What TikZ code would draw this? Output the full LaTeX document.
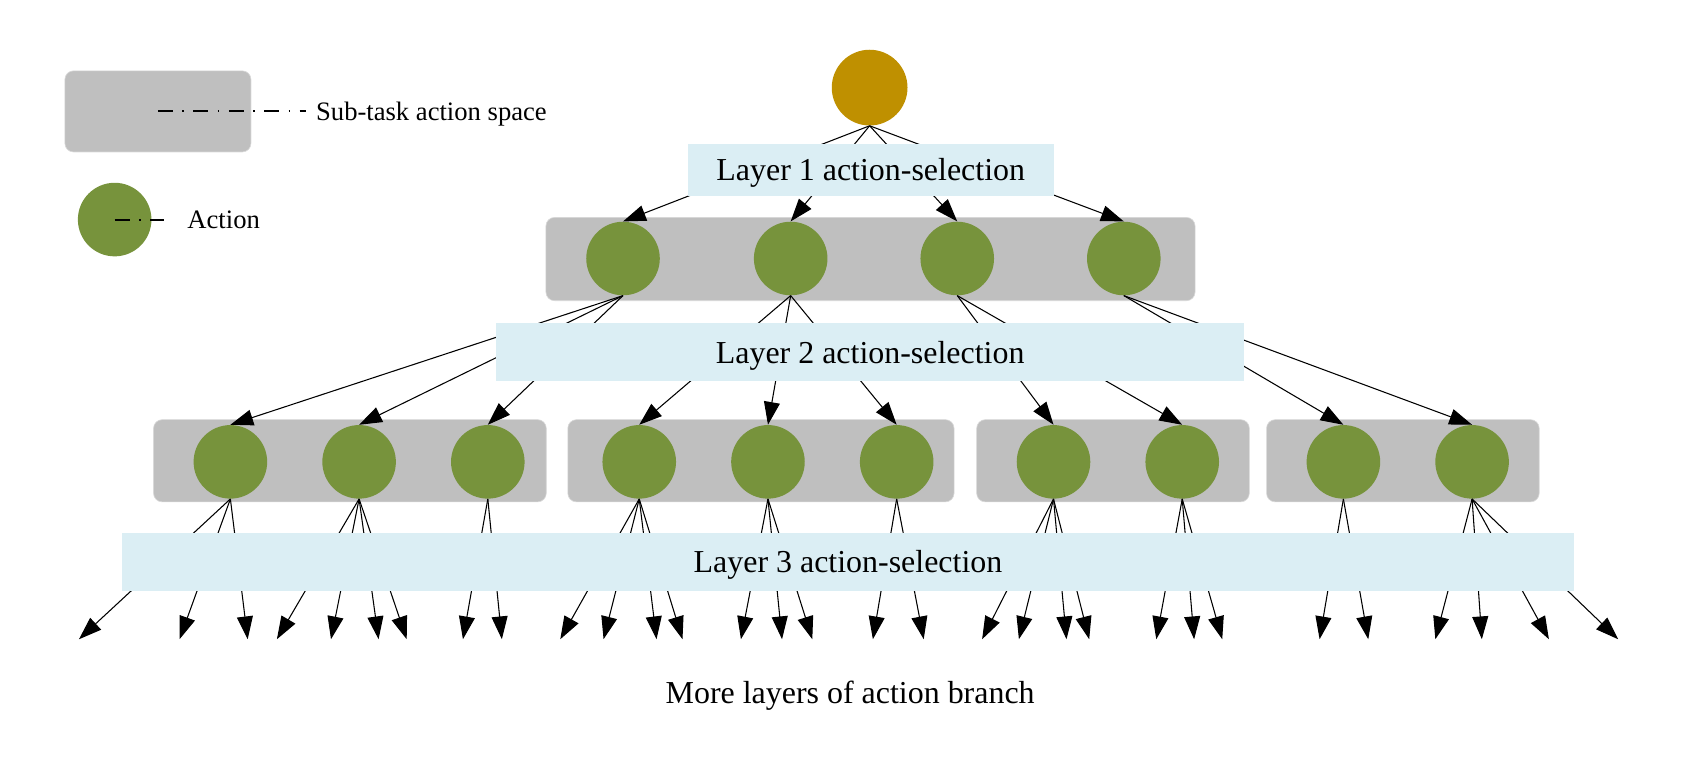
\documentclass[tikz,border=0pt]{standalone}
\usepackage{fontspec}
\setmainfont{Liberation Serif}
\usetikzlibrary{positioning,arrows.meta}
\pgfdeclarelayer{bg}
\pgfsetlayers{bg,main}
\definecolor{rootgold}{HTML}{BF9000}
\definecolor{actgreen}{HTML}{77933C}
\definecolor{spacegray}{HTML}{BFBFBF}
\definecolor{selblue}{HTML}{DBEEF4}
\tikzset{
	>={Triangle[length=15pt,width=10.5pt]}
}

\begin{document}
\begin{tikzpicture}[
	x = 0.025cm, y = -0.025cm,
	every node/.style = {
		font = \fontsize{21}{25}\selectfont,
		text depth = 0pt
	},
	action/.style = {
		circle,
		fill = actgreen,
		minimum size = 1.7cm,
		inner sep = 0pt
	},
	subspace/.style = {
		fill = spacegray,
		draw = spacegray!60!white,
		rounded corners = 0.2cm,
		minimum height = 1.9cm,
		inner sep = 0pt
	},
	selection/.style = {
		fill = selblue,
		minimum height = 1.325cm,
		inner sep = 0pt
	},
	legendline/.style = {
		line width = 1.3pt,
		dash pattern = on 9.9pt off 6.2pt on 1pt off 6.2pt
	},
	legendtext/.style = {
		anchor = west,
		inner sep = 0pt,
		font = \fontsize{17.5}{21}\selectfont
	},
	branch/.style = {
		->,
		line width = 0.7pt
	}
	]
	
	\useasboundingbox (0,0) rectangle (1568,716);
	
	% legend
	\node[subspace, minimum width = 4.3cm, minimum height = 1.875cm] (legspace) at (146,103) {};
	\node[legendtext] (legspacetext) at (292,103) {Sub-task action space};
	\draw[legendline, shorten >= 6.4pt] (legspace.center) -- (legspacetext.west);
	\node[action] (legaction) at (106,203) {};
	\node[legendtext] (legactiontext) at (173,203) {Action};
	\draw[legendline, shorten >= 15pt] (legaction.center) -- (legactiontext.west);
	
	% tree
	\node[circle, fill = rootgold, minimum size = 1.75cm, inner sep = 0pt] (root) at (804,81) {};
	
	\node[action] (a1) at (576,239) {};
	\node[action] (a2) at (731,239) {};
	\node[action] (a3) at (885,239) {};
	\node[action] (a4) at (1039,239) {};
	
	\node[action] (c1) at (213,427) {};
	\node[action] (c2) at (332,427) {};
	\node[action] (c3) at (451,427) {};
	\node[action] (c4) at (591,427) {};
	\node[action] (c5) at (710,427) {};
	\node[action] (c6) at (829,427) {};
	\node[action] (c7) at (974,427) {};
	\node[action] (c8) at (1093,427) {};
	\node[action] (c9) at (1242,427) {};
	\node[action] (c10) at (1361,427) {};
	
	\begin{pgfonlayer}{bg}
		\node[subspace, minimum width = 15cm, minimum height = 1.925cm] (space0) at (804.8,239.5) {};
		\node[subspace, minimum width = 9.075cm] (space1) at (323.5,426) {};
		\node[subspace, minimum width = 8.925cm] (space2) at (703.5,426) {};
		\node[subspace, minimum width = 6.3cm] (space3) at (1029,426) {};
		\node[subspace, minimum width = 6.3cm] (space4) at (1297,426) {};
	\end{pgfonlayer}
	
	\foreach \a in {a1,a2,a3,a4}
		\draw[branch] (root.south) -- (\a.north);
	\foreach \c in {c1,c2,c3}
		\draw[branch] (a1.south) -- (\c.north);
	\foreach \c in {c4,c5,c6}
		\draw[branch] (a2.south) -- (\c.north);
	\foreach \c in {c7,c8}
		\draw[branch] (a3.south) -- (\c.north);
	\foreach \c in {c9,c10}
		\draw[branch] (a4.south) -- (\c.north);
	
	% loose ends of the next layer
	\foreach \x [count=\i] in {73,166,229,256,306,350,376,428,464,518,558,607,631,685,723,751,807,854,908,942,986,1007,1069,1104,1130,1220,1265,1327,1370,1432,1496}
		\coordinate (e\i) at (\x,591);
	\foreach \i in {1,...,3}
		\draw[branch] (c1.south) -- (e\i);
	\foreach \i in {4,...,7}
		\draw[branch] (c2.south) -- (e\i);
	\foreach \i in {8,9}
		\draw[branch] (c3.south) -- (e\i);
	\foreach \i in {10,...,13}
		\draw[branch] (c4.south) -- (e\i);
	\foreach \i in {14,...,16}
		\draw[branch] (c5.south) -- (e\i);
	\foreach \i in {17,18}
		\draw[branch] (c6.south) -- (e\i);
	\foreach \i in {19,...,22}
		\draw[branch] (c7.south) -- (e\i);
	\foreach \i in {23,...,25}
		\draw[branch] (c8.south) -- (e\i);
	\foreach \i in {26,27}
		\draw[branch] (c9.south) -- (e\i);
	\foreach \i in {28,...,31}
		\draw[branch] (c10.south) -- (e\i);
	
	% selection layers lie over the branches
	\node[selection, minimum width = 8.45cm, minimum height = 1.2cm] (layer1) at (805,157) {Layer 1 action-selection};
	\node[selection, minimum width = 17.275cm] (layer2) at (804.5,325.5) {Layer 2 action-selection};
	\node[selection, minimum width = 33.55cm] (layer3) at (784,519.5) {Layer 3 action-selection};
	
	\node (more) at (786,640) {More layers of action branch};
	
\end{tikzpicture}
\end{document}
